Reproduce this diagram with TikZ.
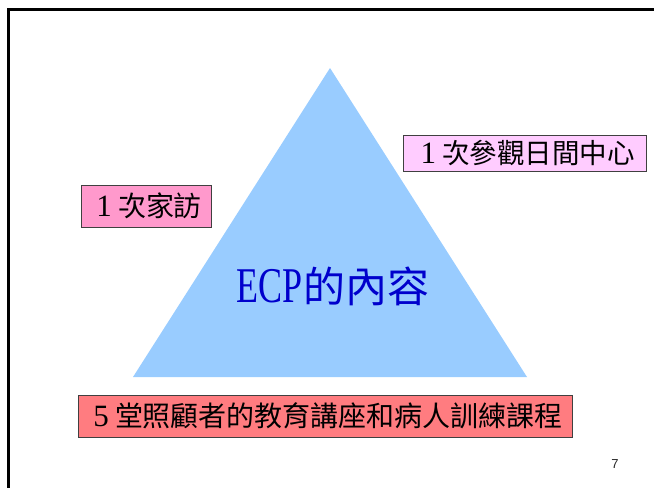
\documentclass[tikz,border=0pt]{standalone}
\usepackage{fontspec}
\setmainfont{Liberation Serif}
\newfontfamily\cjk{Noto Sans CJK TC}
\newfontfamily\pagefont{Liberation Sans}
\definecolor{tri}{HTML}{99CCFF}
\definecolor{boxa}{HTML}{FF99CC}
\definecolor{boxb}{HTML}{FFCCFF}
\definecolor{boxc}{HTML}{FF7C80}
\definecolor{ecpblue}{HTML}{0000CC}
\newcommand{\dig}[1]{\makebox[1em]{\fontsize{31}{31}\selectfont #1}}
\begin{document}
\begin{tikzpicture}[x=1pt,y=-1pt,
  labelbox/.style={draw=black!75, line width=0.9pt, inner sep=0pt, text=black, anchor=center},
  bigtext/.style={font=\fontsize{28}{30}\selectfont},
  midtext/.style={font=\fontsize{27.5}{29}\selectfont}]
\useasboundingbox (0,0) rectangle (654,488);
\draw[line width=2.5pt] (654,9.5) -- (8.3,9.5) -- (8.3,488);
\fill[tri] (330,68) -- (527,377) -- (133,377) -- cycle;
\node[text=ecpblue, inner sep=0pt] (ecp) at (333,286)
  {\scalebox{0.72}[1]{\fontsize{50}{50}\selectfont ECP}{\fontsize{42}{44}\selectfont\cjk 的內容}};
\node[labelbox, fill=boxa, bigtext, minimum width=130pt, minimum height=42pt] (visit) at (146,206)
  {\dig{1}{\cjk 次家訪}};
\node[labelbox, fill=boxb, midtext, minimum width=243pt, minimum height=36pt] (center) at (524.5,153)
  {\dig{1}{\cjk 次參觀日間中心}};
\node[labelbox, fill=boxc, bigtext, minimum width=494pt, minimum height=42pt] (course) at (325,416)
  {\dig{5}{\cjk 堂照顧者的教育講座和病人訓練課程}};
\node[font=\pagefont\fontsize{13}{13}\selectfont, text=black!85, inner sep=0pt] (page) at (615,464) {7};
\end{tikzpicture}
\end{document}
